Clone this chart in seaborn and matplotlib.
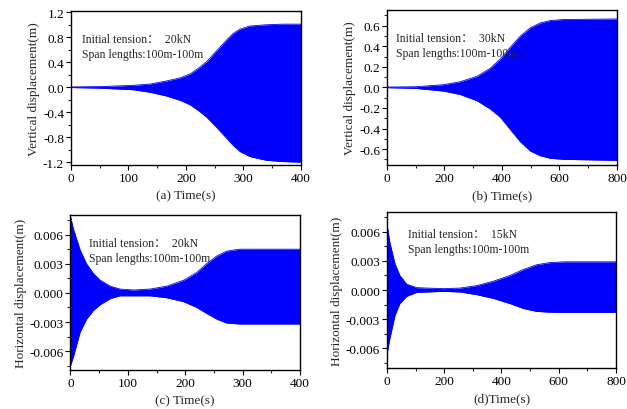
import numpy as np
import pandas as pd
import matplotlib
matplotlib.use("Agg")
import matplotlib.pyplot as plt
import seaborn as sns
from matplotlib.ticker import MultipleLocator

# ---- envelope data (time, upper, lower) ----
a_t = [0, 50, 108, 137, 166, 190, 207, 224, 236, 253, 271, 282, 294, 311, 340, 369, 400]
a_up = [0.005, 0.01, 0.03, 0.05, 0.10, 0.15, 0.21, 0.32, 0.41, 0.58, 0.76, 0.86, 0.93, 0.98, 1.00, 1.01, 1.01]
a_lo = [-0.005, -0.015, -0.04, -0.08, -0.14, -0.21, -0.28, -0.39, -0.48, -0.64, -0.82, -0.93, -1.03, -1.11, -1.17, -1.19, -1.20]

b_t = [0, 100, 197, 255, 313, 359, 394, 429, 464, 499, 533, 568, 615, 800]
b_up = [0.003, 0.006, 0.026, 0.055, 0.107, 0.185, 0.276, 0.39, 0.50, 0.58, 0.626, 0.65, 0.66, 0.665]
b_lo = [-0.003, -0.01, -0.036, -0.07, -0.13, -0.21, -0.29, -0.41, -0.53, -0.62, -0.665, -0.69, -0.70, -0.71]

c_t = [0, 5, 17, 28, 40, 52, 69, 86, 110, 139, 168, 197, 220, 237, 255, 272, 295, 400]
c_up = [0.0079, 0.0066, 0.0044, 0.0030, 0.0020, 0.0013, 0.0007, 0.0004, 0.0003, 0.0004, 0.0007, 0.0013, 0.0021, 0.0030, 0.0038, 0.0043, 0.0045, 0.0045]
c_lo = [-0.0075, -0.0066, -0.0040, -0.0027, -0.0018, -0.0012, -0.0006, -0.0003, -0.0003, -0.0003, -0.0005, -0.0009, -0.0015, -0.0021, -0.0027, -0.0031, -0.0032, -0.0032]

d_t = [0, 10, 28, 45, 69, 104, 197, 255, 313, 371, 430, 476, 523, 569, 620, 800]
d_up = [0.0068, 0.0049, 0.0027, 0.0015, 0.0006, 0.00024, 0.00014, 0.0002, 0.00045, 0.0009, 0.0015, 0.0021, 0.0026, 0.00282, 0.0029, 0.0029]
d_lo = [-0.0066, -0.0050, -0.0026, -0.0014, -0.00065, -0.00024, -0.00014, -0.0002, -0.00048, -0.00086, -0.0014, -0.0019, -0.0022, -0.00228, -0.0023, -0.0023]

x_labels = ["(a) Time(s)", "(b) Time(s)", "(c) Time(s)", "(d)Time(s)"]
y_labels = ["Vertical displacement(m)", "Vertical displacement(m)",
            "Horizontal displacement(m)", "Horizontal displacement(m)"]
tensions = ["20kN", "30kN", "20kN", "15kN"]

sns.set_theme(style="ticks")
plt.rcParams['font.family'] = ['Liberation Serif', 'Noto Sans CJK SC', 'DejaVu Sans']
plt.rcParams['axes.linewidth'] = 1.0
plt.rcParams['axes.unicode_minus'] = False

fig = plt.figure(figsize=(6.27, 4.10), dpi=100)
rects = [
    [0.1132, 0.5951, 0.3668, 0.3756],
    [0.6172, 0.5951, 0.3668, 0.3780],
    [0.1124, 0.0959, 0.3660, 0.3773],
    [0.6172, 0.1007, 0.3652, 0.3790],
]
datasets = [(a_t, a_up, a_lo), (b_t, b_up, b_lo), (c_t, c_up, c_lo), (d_t, d_up, d_lo)]
xlims = [(0, 400), (0, 800), (0, 400), (0, 800)]
ylims = [(-1.245, 1.22), (-0.755, 0.752), (-0.0079, 0.00802), (-0.00799, 0.00799)]
xmaj = [100, 200, 100, 200]
ymaj = [0.4, 0.2, 0.003, 0.003]
yfmt = ["%.1f", "%.1f", "%.3f", "%.3f"]
text_pos = [(0.05, 0.86), (0.04, 0.86), (0.08, 0.86), (0.09, 0.90)]
blue = "#0000FF"

for i in range(4):
    ax = fig.add_axes(rects[i])
    t, up, lo = datasets[i]
    df = pd.DataFrame({"t": t + t, "v": up + lo, "side": ["up"] * len(t) + ["lo"] * len(t)})
    sns.lineplot(data=df, x="t", y="v", hue="side", palette=[blue, blue],
                 legend=False, ax=ax, linewidth=0.6)
    ax.fill_between(t, lo, up, color=blue, linewidth=0)
    ax.set_xlim(*xlims[i])
    ax.set_ylim(*ylims[i])
    ax.xaxis.set_major_locator(MultipleLocator(xmaj[i]))
    ax.xaxis.set_minor_locator(MultipleLocator(xmaj[i] / 2))
    ax.yaxis.set_major_locator(MultipleLocator(ymaj[i]))
    ax.yaxis.set_minor_locator(MultipleLocator(ymaj[i] / 2))
    ax.yaxis.set_major_formatter(matplotlib.ticker.FormatStrFormatter(yfmt[i]))
    ax.tick_params(which="major", direction="out", length=3.5, width=0.8,
                   labelsize=9.5, pad=1.5, colors="black")
    ax.tick_params(which="minor", direction="out", length=2, width=0.8)
    for s in ax.spines.values():
        s.set_visible(True)
        s.set_color("black")
        s.set_linewidth(1.0)
    ax.set_xlabel(x_labels[i], fontsize=9.5, labelpad=4)
    ax.set_ylabel(y_labels[i], fontsize=9.5, labelpad=2)
    ax.text(text_pos[i][0], text_pos[i][1],
            "Initial tension：  " + tensions[i] + "\nSpan lengths:100m-100m",
            transform=ax.transAxes, fontsize=8.5, va="top", ha="left",
            linespacing=1.35)

fig.savefig("out.png", dpi=100)
